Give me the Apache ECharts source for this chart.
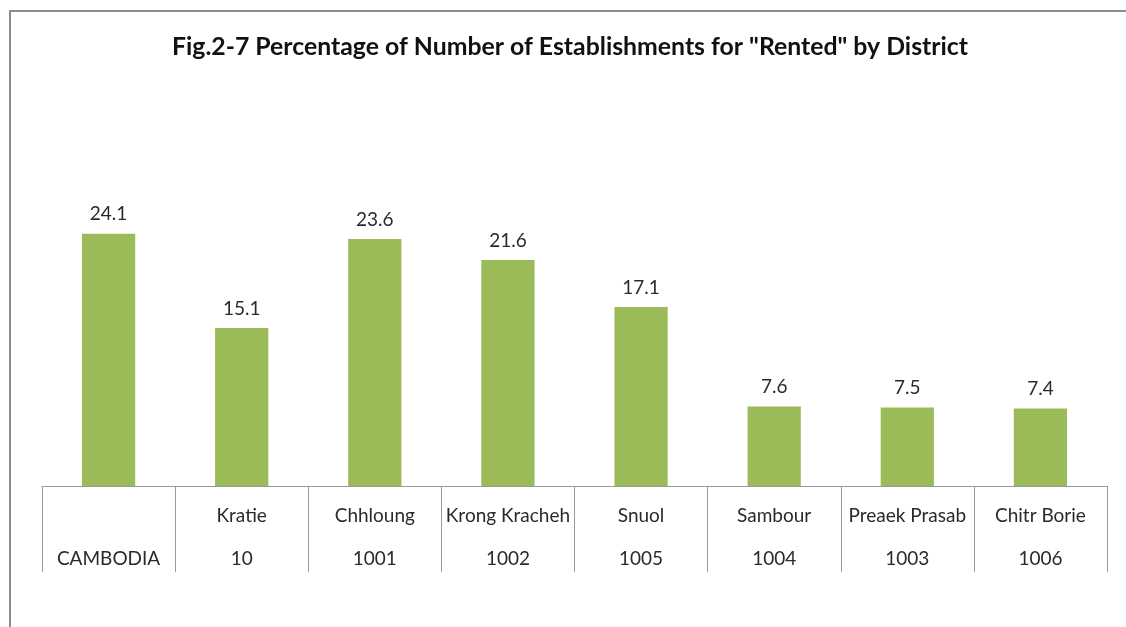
<!DOCTYPE html>
<html lang="en">
  <head>
    <meta charset="utf-8" />
    <title>Fig.2-7 Percentage of Number of Establishments for "Rented" by District</title>
    <script
      type="text/javascript"
      src="https://cdn.jsdelivr.net/npm/echarts@6/dist/echarts.min.js"
    ></script>
    <style type="text/css">
      * {
        margin: 0;
        padding: 0;
      }
      html,
      body,
      #chart {
        width: 100%;
        height: 100%;
        overflow: hidden;
        background: #fff;
      }
    </style>
  </head>
  <body>
    <div id="chart"></div>
    <script type="text/javascript">
      // district names (first label row) and codes (second label row)
      var districtNames = [
        "",
        "Kratie",
        "Chhloung",
        "Krong Kracheh",
        "Snuol",
        "Sambour",
        "Preaek Prasab",
        "Chitr Borie",
      ];
      var districtCodes = [
        "CAMBODIA",
        "10",
        "1001",
        "1002",
        "1005",
        "1004",
        "1003",
        "1006",
      ];
      var rentedPct = [24.1, 15.1, 23.6, 21.6, 17.1, 7.6, 7.5, 7.4];

      var fontFamily = "Lato, 'Open Sans', sans-serif";
      var categories = districtCodes.map(function (code, i) {
        return districtNames[i] + "\n" + code;
      });

      var chart = echarts.init(document.getElementById("chart"));
      chart.setOption({
        animation: false,
        title: {
          text: 'Fig.2-7 Percentage of Number of Establishments for "Rented" by District',
          left: 172,
          top: 35,
          padding: 0,
          textStyle: {
            fontFamily: fontFamily,
            fontSize: 24.8,
            fontWeight: "bold",
            color: "#111",
          },
        },
        // outer chart frame
        graphic: [
          {
            type: "rect",
            shape: { x: 10, y: 11, width: 1200, height: 700 },
            style: { fill: "none", stroke: "#8c8c8c", lineWidth: 2 },
            silent: true,
          },
        ],
        grid: { left: 42, right: 19, top: 172, bottom: 141 },
        xAxis: {
          type: "category",
          data: categories,
          axisLine: { lineStyle: { color: "#9a9a9a", width: 1 } },
          axisTick: {
            show: true,
            interval: 0,
            length: 86,
            lineStyle: { color: "#9a9a9a", width: 1 },
          },
          axisLabel: {
            interval: 0,
            margin: 8,
            fontFamily: fontFamily,
            fontSize: 19,
            lineHeight: 43,
            color: "#2a2a2a",
          },
        },
        yAxis: {
          type: "value",
          min: 0,
          max: 30,
          show: false,
          splitLine: { show: false },
        },
        series: [
          {
            type: "bar",
            data: rentedPct,
            barWidth: "40%",
            itemStyle: { color: "#9bbb59" },
            label: {
              show: true,
              position: "top",
              distance: 10,
              fontFamily: fontFamily,
              fontSize: 19,
              color: "#2a2a2a",
            },
          },
        ],
      });
    </script>
  </body>
</html>
